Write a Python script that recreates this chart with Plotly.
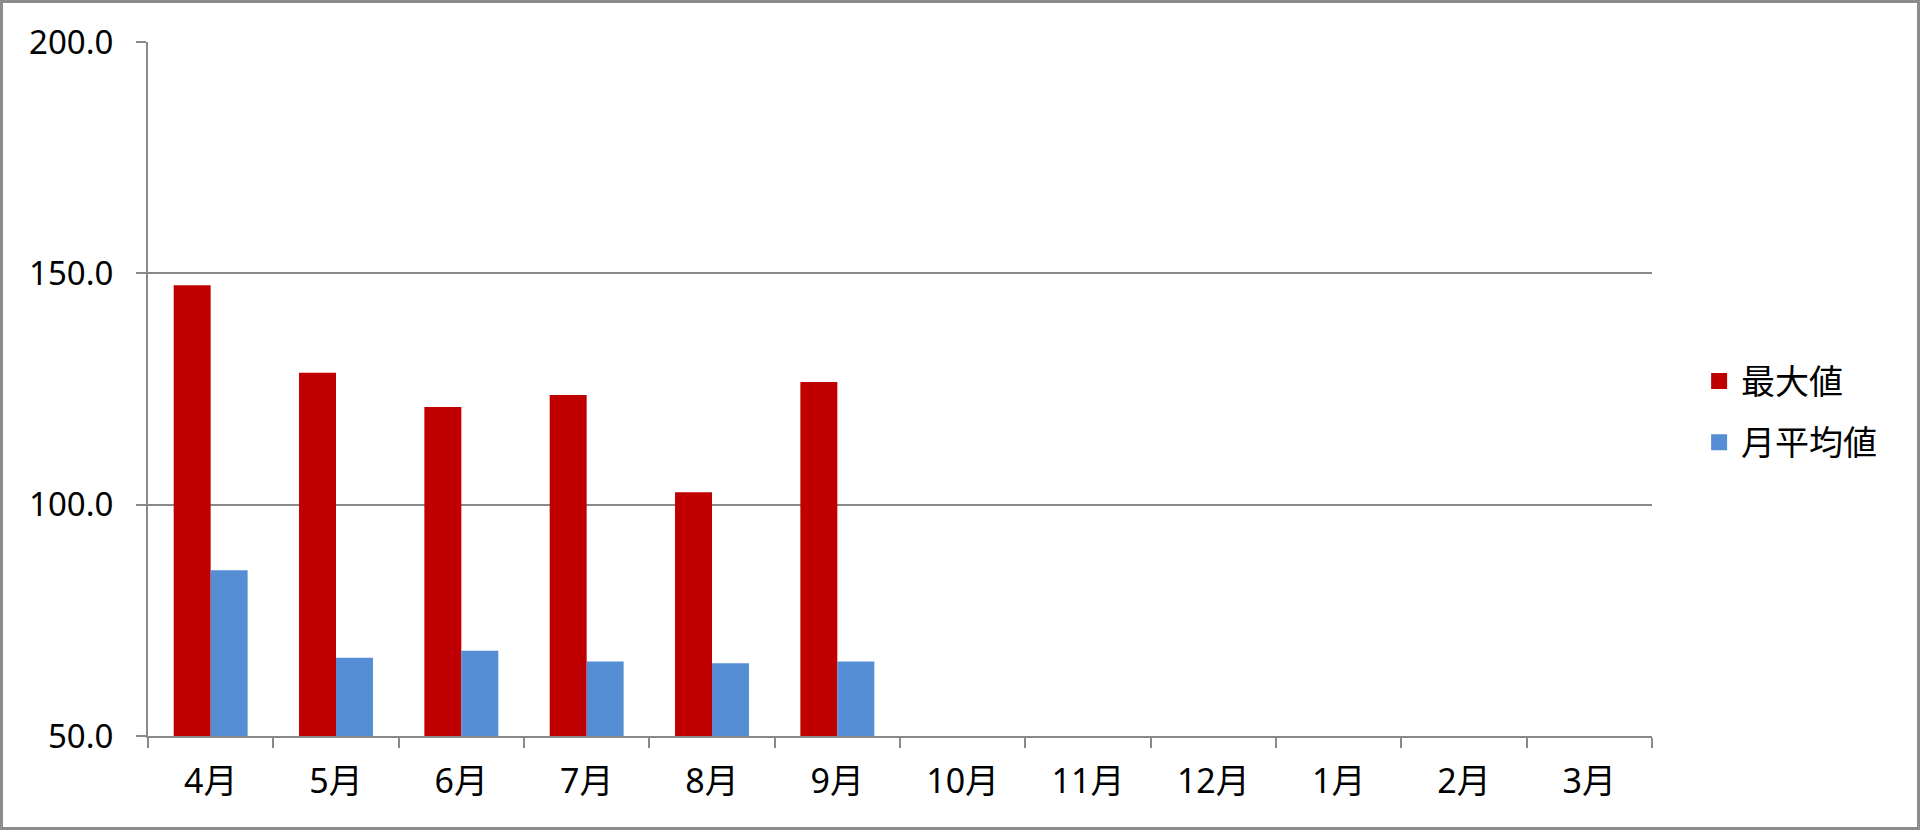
import plotly.graph_objects as go

months = ["4月", "5月", "6月", "7月", "8月", "9月", "10月", "11月", "12月", "1月", "2月", "3月"]
max_vals = [147.4, 128.5, 121.1, 123.7, 102.7, 126.5, None, None, None, None, None, None]
avg_vals = [85.8, 66.9, 68.4, 66.1, 65.7, 66.1, None, None, None, None, None, None]
y_ticks = [50, 100, 150, 200]
y_tick_text = ["50.0", "100.0", "150.0", "200.0"]
series_names = ["最大値", "月平均値"]
series_colors = ["#c00000", "#558ed5"]

W, H = 1920, 830
L, R, T, B = 148, 268, 42, 94
FONT = "Noto Sans, Noto Sans CJK JP, sans-serif"
GRID = "#8a8a8a"

fig = go.Figure()
for name, vals, col in zip(series_names, [max_vals, avg_vals], series_colors):
    fig.add_trace(go.Bar(name=name, x=months, y=vals, showlegend=False,
                         marker=dict(color=col, line=dict(width=0))))
# legend entries with larger square swatches
for i, (name, col) in enumerate(zip(series_names, series_colors)):
    fig.add_trace(go.Scatter(name=name, x=[None], y=[None], mode="markers",
                             legendgroup=f"g{i}",
                             marker=dict(symbol="square", size=22, color=col)))

fig.update_layout(
    width=W, height=H,
    margin=dict(l=L, r=R, t=T, b=B),
    paper_bgcolor="white", plot_bgcolor="white",
    barmode="group", bargap=0.41, bargroupgap=0,
    font=dict(family=FONT, size=31, color="black"),
    showlegend=True,
    legend=dict(x=1.03, y=0.467, xanchor="left", yanchor="middle",
                font=dict(size=34, family=FONT), itemsizing="trace",
                tracegroupgap=14, itemwidth=34, bgcolor="rgba(0,0,0,0)"),
    xaxis=dict(
        type="category", categoryorder="array", categoryarray=months,
        tickson="boundaries", ticks="outside", ticklen=10, tickwidth=2, tickcolor=GRID,
        showline=True, linecolor=GRID, linewidth=2, showgrid=False,
        tickfont=dict(size=34, family=FONT), ticklabelstandoff=14,
        range=[-0.5, 11.5], fixedrange=True,
    ),
    yaxis=dict(
        range=[50, 200], tickvals=y_ticks, ticktext=y_tick_text,
        ticks="outside", ticklen=10, tickwidth=2, tickcolor=GRID,
        showline=True, linecolor=GRID, linewidth=2,
        showgrid=True, gridcolor=GRID, gridwidth=2, zeroline=False,
        tickfont=dict(size=33, family=FONT), ticklabelstandoff=16,
        fixedrange=True,
    ),
)

pw = W - L - R
ph = H - T - B
fig.add_shape(type="rect", xref="paper", yref="paper",
              x0=(-L + 1.5) / pw, x1=(W - L - 1.5) / pw,
              y0=(-B + 1.5) / ph, y1=(H - B - 1.5) / ph,
              line=dict(color="#8c8c8c", width=3), fillcolor="rgba(0,0,0,0)", layer="below")

fig.write_html("out.html", config={"displayModeBar": False},
               post_script="document.body.style.margin='0';document.body.style.overflow='hidden';")
